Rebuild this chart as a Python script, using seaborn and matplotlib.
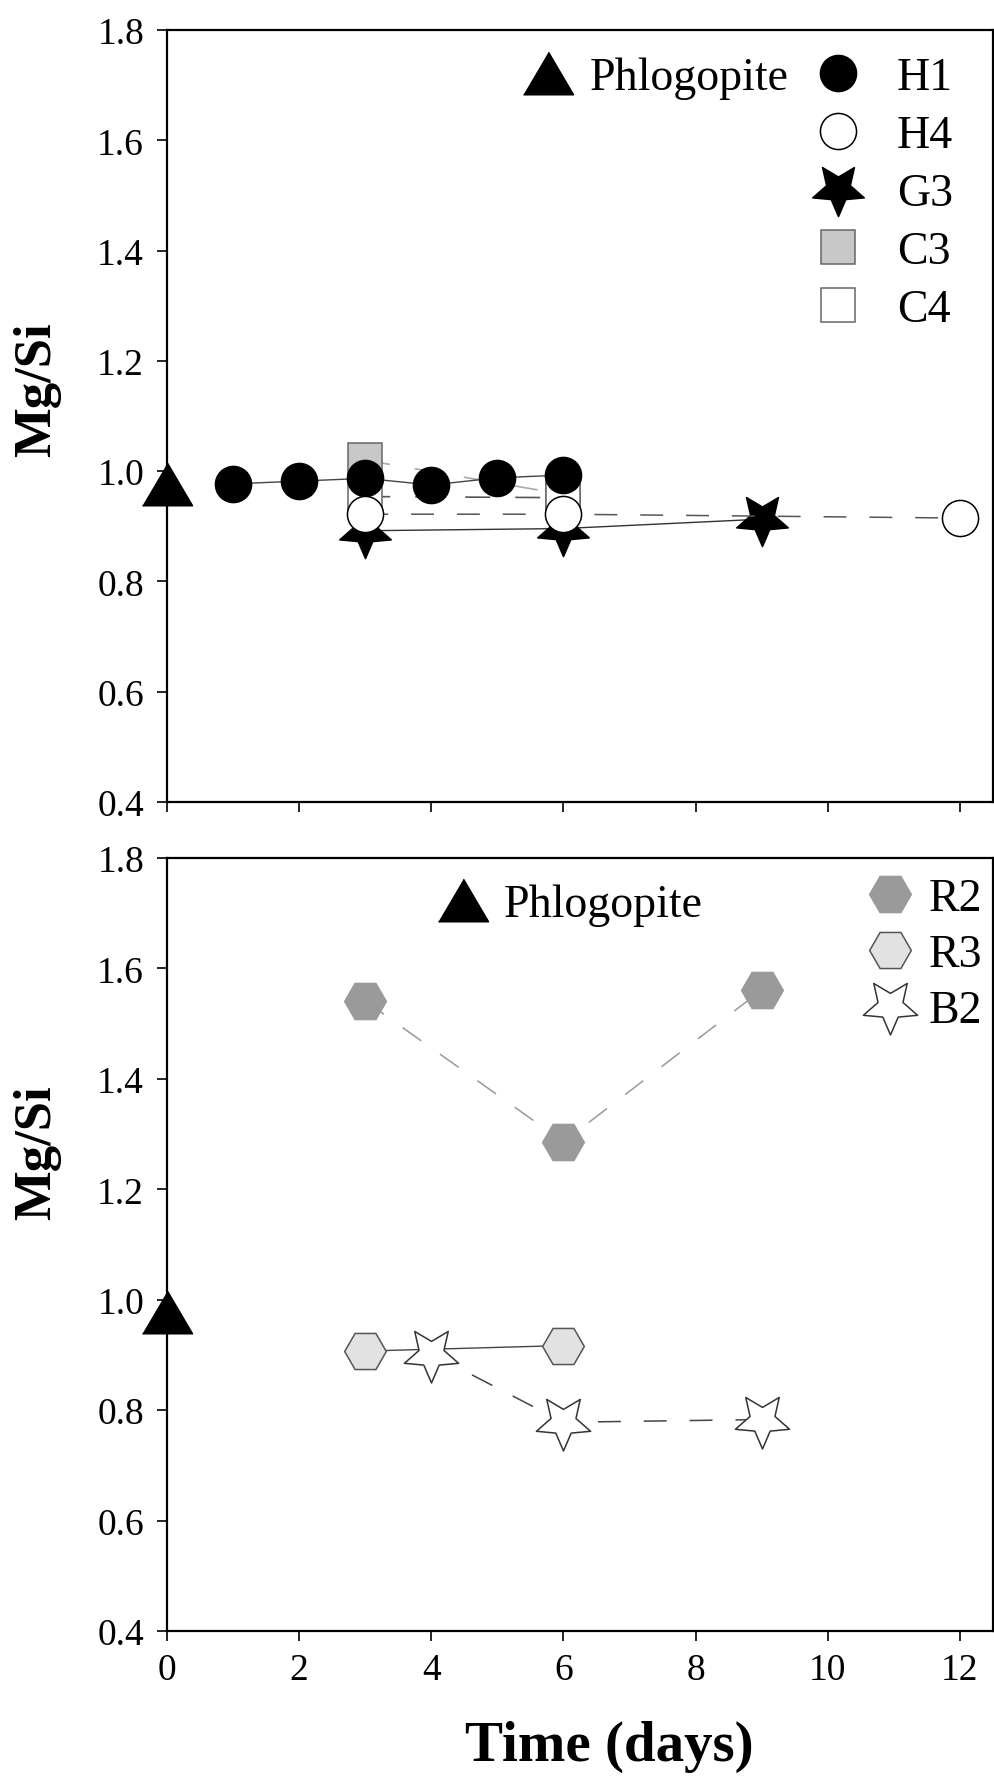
import matplotlib
matplotlib.use("Agg")
import matplotlib.pyplot as plt
import seaborn as sns
from matplotlib.lines import Line2D
from matplotlib.path import Path
from matplotlib.transforms import Affine2D

# values
phlog_day = [0]
phlog_mgsi = [0.977]

h1_days = [1, 2, 3, 4, 5, 6]
h1_mgsi = [0.977, 0.982, 0.987, 0.975, 0.988, 0.993]
h4_days = [3, 6, 12]
h4_mgsi = [0.922, 0.922, 0.915]
g3_days = [3, 6, 9]
g3_mgsi = [0.892, 0.896, 0.913]
c3_days = [3, 6]
c3_mgsi = [1.02, 0.958]
c4_days = [3, 6]
c4_mgsi = [0.954, 0.952]

r2_days = [3, 6, 9]
r2_mgsi = [1.541, 1.286, 1.561]
r3_days = [3, 6]
r3_mgsi = [0.907, 0.917]
b2_days = [4, 6, 9]
b2_mgsi = [0.902, 0.778, 0.783]

x_ticks = [0, 2, 4, 6, 8, 10, 12]
y_ticks = [0.4, 0.6, 0.8, 1.0, 1.2, 1.4, 1.6, 1.8]

sns.set_style("ticks", {"axes.edgecolor": "black", "xtick.color": "black",
                        "ytick.color": "black", "text.color": "black",
                        "axes.labelcolor": "black"})
plt.rcParams["font.family"] = ["Liberation Serif", "DejaVu Serif"]

# stars point down in the original, and are a bit fatter than mpl's '*'
star_dn = Affine2D().rotate_deg(180).transform_path(Path.unit_regular_star(5, 0.46))
tri = [(-1, -0.85), (1, -0.85), (0, 0.85)]
dash = (0, (15, 15))

CIRC, STAR, SQ, HEX, TRI = 26, 39, 25, 30, 36
LEG_FS = 33


def draw(ax, days, vals, marker, ms, face, edge, lc="none", ls="none", lw=1.1, z=2):
    sns.lineplot(x=days, y=vals, ax=ax, marker=marker, markersize=ms,
                 markerfacecolor=face, markeredgecolor=edge, markeredgewidth=1.1,
                 color=lc, linestyle=ls, linewidth=lw, zorder=z, clip_on=False)


def handle(marker, ms, face, edge):
    return Line2D([], [], linestyle="none", marker=marker, markersize=ms,
                  markerfacecolor=face, markeredgecolor=edge, markeredgewidth=1.1)


def style_axes(ax, show_x):
    ax.set_xlim(0, 12.5)
    ax.set_ylim(0.4, 1.8)
    ax.set_xticks(x_ticks)
    ax.set_yticks(y_ticks)
    ax.set_yticklabels([f"{v:.1f}" for v in y_ticks])
    ax.tick_params(direction="out", length=7.5, width=1.2, labelsize=27,
                   colors="black")
    ax.tick_params(axis="y", pad=9)
    ax.tick_params(axis="x", pad=8, labelbottom=show_x)
    for s in ax.spines.values():
        s.set_linewidth(1.6)
        s.set_color("black")
    ax.set_ylabel("Mg/Si", fontsize=38, fontweight="bold")
    ax.yaxis.label.set_va("center")
    ax.set_xlabel("")


fig = plt.figure(figsize=(9.94, 17.83), dpi=100)
ax1 = fig.add_axes([0.168, 0.5496, 0.831, 0.433])
ax2 = fig.add_axes([0.168, 0.0847, 0.831, 0.4335])

# upper panel
draw(ax1, g3_days, g3_mgsi, star_dn, STAR, "black", "black", "#333333", "-", 1.0, 2)
draw(ax1, c3_days, c3_mgsi, "s", SQ, "#c8c8c8", "#666666", "#aaaaaa", dash, 1.2, 3)
draw(ax1, c4_days, c4_mgsi, "s", SQ, "white", "#666666", "#555555", dash, 1.2, 4)
draw(ax1, h1_days, h1_mgsi, "o", CIRC, "black", "black", "#444444", "-", 1.0, 5)
draw(ax1, h4_days, h4_mgsi, "o", CIRC, "white", "black", "#555555", dash, 1.1, 6)
draw(ax1, phlog_day, phlog_mgsi, tri, TRI, "black", "black", z=7)
style_axes(ax1, False)
ax1.yaxis.set_label_coords(-0.157, 0.536)

leg = ax1.legend([handle(tri, TRI, "black", "black")], ["Phlogopite"],
                 loc="upper left", bbox_to_anchor=(0.4334, 0.966), frameon=False,
                 fontsize=LEG_FS, handlelength=1.0, handletextpad=0.42,
                 borderpad=0, borderaxespad=0)
ax1.add_artist(leg)
ax1.legend([handle("o", CIRC, "black", "black"),
            handle("o", CIRC, "white", "black"),
            handle(star_dn, STAR, "black", "black"),
            handle("s", SQ, "#c8c8c8", "#666666"),
            handle("s", SQ, "white", "#666666")],
           ["H1", "H4", "G3", "C3", "C4"],
           loc="upper left", bbox_to_anchor=(0.7845, 0.966), frameon=False,
           fontsize=LEG_FS, handlelength=1.0, handletextpad=0.79, labelspacing=0.34,
           borderpad=0, borderaxespad=0)

# lower panel
draw(ax2, r2_days, r2_mgsi, "H", HEX, "#9a9a9a", "#9a9a9a", "#999999", dash, 1.1, 2)
draw(ax2, r3_days, r3_mgsi, "H", HEX, "#e2e2e2", "#555555", "#444444", "-", 1.0, 3)
draw(ax2, b2_days, b2_mgsi, star_dn, 41, "white", "#333333", "#444444", dash, 1.1, 4)
draw(ax2, phlog_day, phlog_mgsi, tri, TRI, "black", "black", z=7)
style_axes(ax2, True)
ax2.yaxis.set_label_coords(-0.157, 0.62)
ax2.set_xlabel("Time (days)", fontsize=41, fontweight="bold")
ax2.xaxis.set_label_coords(0.536, -0.115)

leg = ax2.legend([handle(tri, TRI, "black", "black")], ["Phlogopite"],
                 loc="upper left", bbox_to_anchor=(0.3305, 0.967), frameon=False,
                 fontsize=LEG_FS, handlelength=1.0, handletextpad=0.39,
                 borderpad=0, borderaxespad=0)
ax2.add_artist(leg)
ax2.legend([handle("H", HEX, "#9a9a9a", "#9a9a9a"),
            handle("H", HEX, "#e2e2e2", "#555555"),
            handle(star_dn, 41, "white", "#333333")],
           ["R2", "R3", "B2"],
           loc="upper left", bbox_to_anchor=(0.8475, 0.975), frameon=False,
           fontsize=LEG_FS, handlelength=1.0, handletextpad=0.35, labelspacing=0.30,
           borderpad=0, borderaxespad=0)

fig.savefig("out.png", dpi=100)
